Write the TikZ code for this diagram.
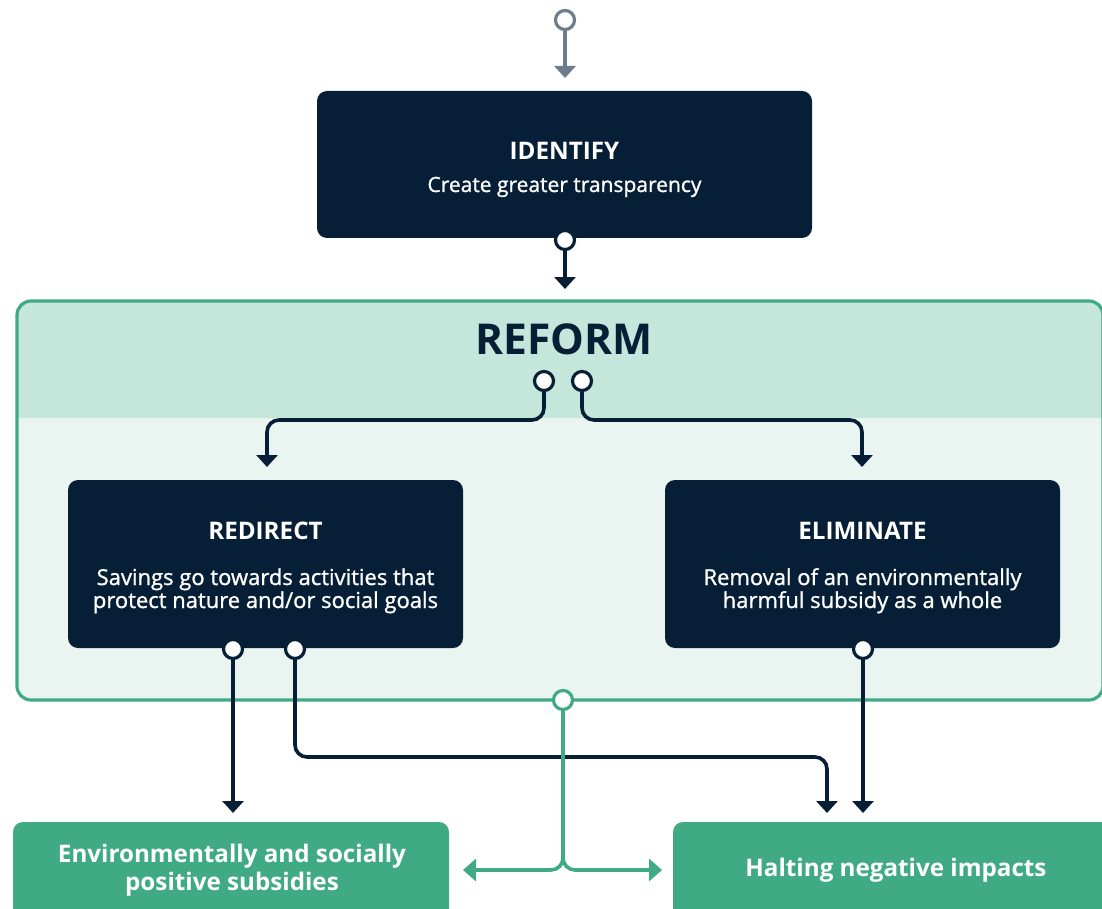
\documentclass[tikz,border=0pt]{standalone}
\usepackage{fontspec}
\setmainfont{Open Sans}
\newfontfamily\bodyfont{Open Sans}[FakeBold=1.1]
\usetikzlibrary{arrows.meta}
\definecolor{navy}{HTML}{061F36}
\definecolor{grn}{HTML}{3FAA84}
\definecolor{bandc}{HTML}{C5E6DA}
\definecolor{pale}{HTML}{EAF5F1}
\definecolor{greyc}{HTML}{6E7D8B}
\begin{document}
\begin{tikzpicture}[x=1pt,y=-1pt,
  darkbox/.style={fill=navy, rounded corners=10pt, inner sep=0pt},
  ttl/.style={text=white, anchor=base, inner sep=0pt, font=\bfseries\fontsize{24.2}{26}\selectfont},
  body/.style={text=white, anchor=base, inner sep=0pt, font=\bodyfont\fontsize{22}{24}\selectfont},
  greenbox/.style={fill=grn, rounded corners=10pt, inner sep=0pt},
  gtext/.style={text=white, align=center, font=\bfseries\fontsize{24.2}{28.5}\selectfont},
  dot/.style={circle, fill=white, draw=navy, line width=3.2pt, minimum size=19pt, inner sep=0pt},
  gdot/.style={circle, fill=white, draw=grn, line width=3.2pt, minimum size=19pt, inner sep=0pt},
  greydot/.style={circle, fill=white, draw=greyc, line width=3.2pt, minimum size=19pt, inner sep=0pt},
  conn/.style={draw=navy, line width=3.6pt, rounded corners=12pt, -{Triangle[width=21pt,length=12pt]}},
  gconn/.style={draw=grn, line width=3.6pt, rounded corners=12pt, -{Triangle[width=22pt,length=13pt]}},
  greyconn/.style={draw=greyc, line width=3.6pt, -{Triangle[width=21pt,length=12pt]}}
]
\useasboundingbox (0,0) rectangle (1102,909);

% REFORM container
\begin{scope}
  \clip[rounded corners=14pt] (17,301) rectangle (1103,700);
  \fill[bandc] (17,301) rectangle (1103,418);
  \fill[pale] (17,418) rectangle (1103,700);
\end{scope}
\draw[grn, line width=3.2pt, rounded corners=14pt] (17,301) rectangle (1103,700);
\node[text=navy, font=\bfseries\fontsize{42.5}{44}\selectfont] (reform) at (564,339) {REFORM};

% boxes
\node[darkbox, minimum width=495pt, minimum height=147pt] (identify) at (564.5,164.5) {};
\node[ttl] (identifyt) at (564.5,160) {IDENTIFY};
\node[body, font=\bodyfont\fontsize{21}{24}\selectfont] (identifyb) at (564.5,192) {Create greater transparency};

\node[darkbox, minimum width=395pt, minimum height=168pt] (redirect) at (265.5,564) {};
\node[ttl] (redirectt) at (265.5,539) {REDIRECT};
\node[body] (redirectb1) at (265.5,585) {Savings go towards activities that};
\node[body] (redirectb2) at (265.5,608) {protect nature and/or social goals};

\node[darkbox, minimum width=395pt, minimum height=168pt] (eliminate) at (862.5,564) {};
\node[ttl] (eliminatet) at (862.5,539) {ELIMINATE};
\node[body] (eliminateb1) at (862.5,585) {Removal of an environmentally};
\node[body] (eliminateb2) at (862.5,608) {harmful subsidy as a whole};

\node[greenbox, minimum width=436pt, minimum height=110pt] (positive) at (231,877) {};
\node[gtext] (postext) at (232,870) {Environmentally and socially\\positive subsidies};
\node[greenbox, minimum width=450pt, minimum height=110pt] (halting) at (898,877) {};
\node[gtext] (haltext) at (896,870) {Halting negative impacts};

% dots
\node[greydot] (d0) at (565,20) {};
\node[dot] (d1) at (565,240) {};
\node[dot] (d2) at (544,381) {};
\node[dot] (d3) at (582,381) {};
\node[dot] (d4) at (233,649) {};
\node[dot] (d5) at (295,649) {};
\node[dot] (d6) at (863,649) {};
\node[gdot] (d7) at (563,700) {};

% arrow end coordinates
\coordinate (e0) at (565,78);
\coordinate (e1) at (565,289);
\coordinate (e2) at (267,467);
\coordinate (e3) at (862,467);
\coordinate (e4) at (233,813);
\coordinate (e5) at (827,813);
\coordinate (e6) at (863,813);
\coordinate (e7l) at (463,870);
\coordinate (e7r) at (662,870);

% connectors
\draw[greyconn] (d0.south) -- (e0);
\draw[conn] (d1.south) -- (e1);
\draw[conn] (d2.south) |- (400,420) -| (e2);
\draw[conn] (d3.south) |- (700,420) -| (e3);
\draw[conn] (d4.south) -- (e4);
\draw[conn] (d5.south) |- (600,757) -| (e5);
\draw[conn] (d6.south) -- (e6);
\draw[gconn] (d7.south) |- (e7l);
\draw[gconn] (d7.south) |- (e7r);
\end{tikzpicture}
\end{document}
